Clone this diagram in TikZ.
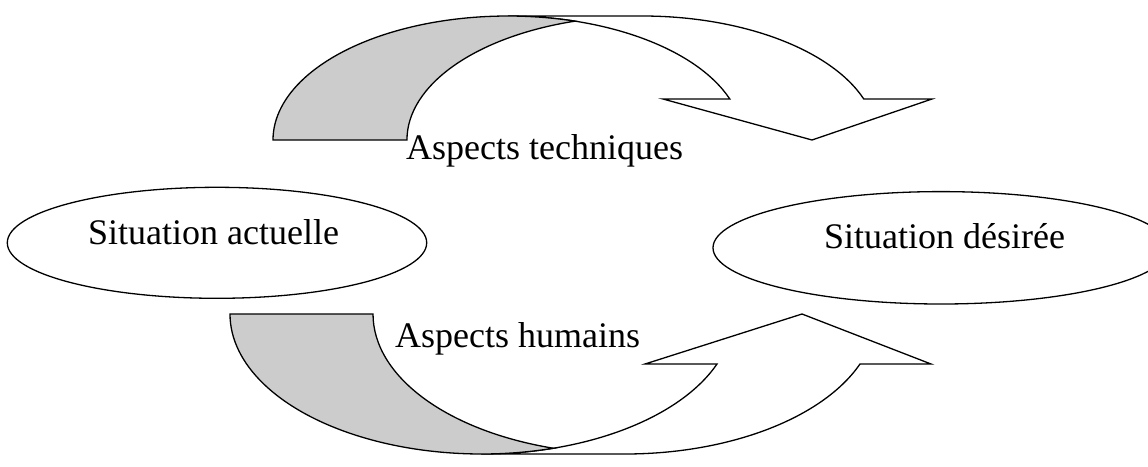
\documentclass[tikz,border=0pt]{standalone}
\usepackage{fontspec}
\setmainfont{Liberation Serif}
\usetikzlibrary{shapes.geometric}
\begin{document}
\begin{tikzpicture}[x=1pt,y=1pt,
  situ/.style={draw=black, line width=1.3pt, ellipse, inner sep=0pt},
  lbl/.style={inner sep=0pt, font=\fontsize{36}{43}\selectfont},
  band/.style={draw=black, line width=1.3pt, line join=miter, fill=white},
  back/.style={draw=black, line width=1.3pt, fill=black!20}]
\useasboundingbox (0,0) rectangle (1148,-466);
% ellipses
\node[situ, minimum width=419.4pt, minimum height=111pt] (sa) at (217,-242.8) {};
\node[situ, minimum width=456pt, minimum height=112.4pt] (sd) at (941,-247.8) {};
\node[lbl, anchor=base west] (sat) at (88,-244) {Situation actuelle};
\node[lbl, anchor=base west] (sdt) at (824,-248) {Situation désirée};
% top curved arrow (front band)
\draw[band] (508,-16) -- (642,-16)
  arc[start angle=90, end angle=19.31, x radius=235, y radius=124]
  -- (932,-99) -- (812,-140) -- (663,-99) -- (729.8,-99)
  arc[start angle=19.31, end angle=90, x radius=235, y radius=124] -- cycle;
% top curved arrow (back band)
\draw[back] (273,-140)
  arc[start angle=180, end angle=73.44, x radius=235, y radius=124]
  arc[start angle=106.56, end angle=180, x radius=235, y radius=124] -- cycle;
% bottom curved arrow (front band)
\draw[band] (481.8,-454) -- (624.8,-454)
  arc[start angle=270, end angle=339.08, x radius=251.8, y radius=140]
  -- (931,-364) -- (802,-314) -- (645,-364) -- (717,-364)
  arc[start angle=339.08, end angle=270, x radius=251.8, y radius=140] -- cycle;
% bottom curved arrow (back band)
\draw[back] (230,-314)
  arc[start angle=180, end angle=286.5, x radius=251.8, y radius=140]
  arc[start angle=253.5, end angle=180, x radius=251.8, y radius=140] -- cycle;
% labels
\node[lbl, anchor=base west] (tech) at (406,-159) {Aspects techniques};
\node[lbl, anchor=base west] (hum) at (395,-347) {Aspects humains};
\end{tikzpicture}
\end{document}
